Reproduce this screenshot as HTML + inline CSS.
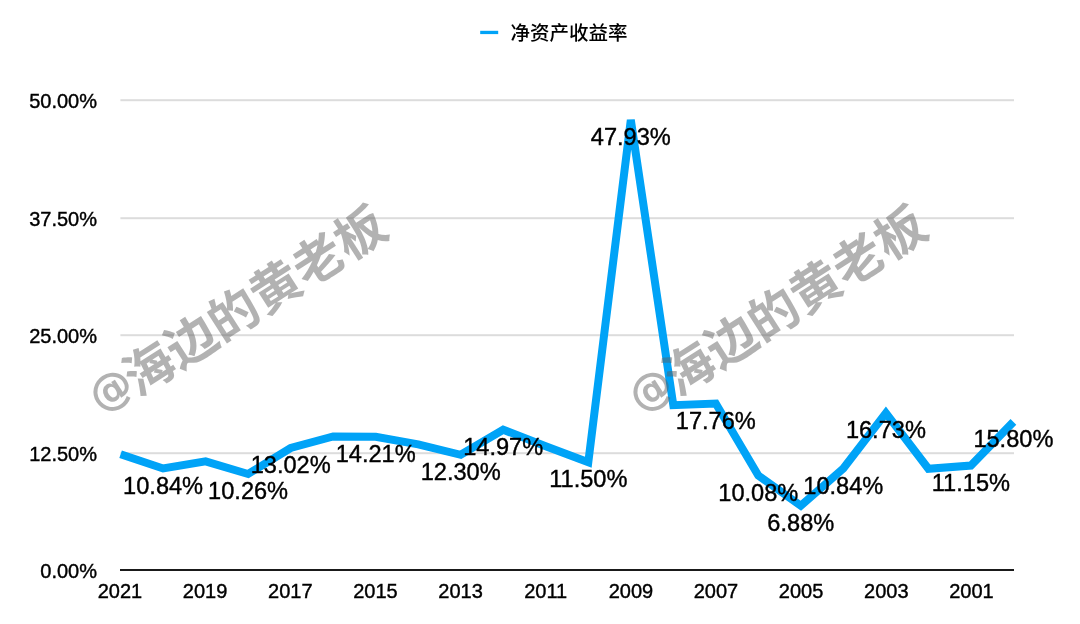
<!DOCTYPE html>
<html><head><meta charset="utf-8"><style>
html,body{margin:0;padding:0;background:#fff;width:1080px;height:624px;overflow:hidden}
svg{display:block;will-change:transform}
.num{font-family:"Liberation Sans",Arial,sans-serif;fill:#000;stroke:#000;stroke-width:0.4px}
.ax{font-size:20px}
.lb{font-size:23.6px}
.lg{font-family:"Liberation Sans","Noto Sans CJK SC",sans-serif;font-weight:500;font-size:19.5px;fill:#000}
.wm{font-family:"Liberation Sans","Noto Sans CJK SC",sans-serif;font-weight:700;font-size:50px;letter-spacing:0.2px;fill:#5e5e5e;fill-opacity:0.48}
.wa{font-family:"DejaVu Sans",sans-serif;font-weight:700;font-size:43px;fill:#5e5e5e;fill-opacity:0.48}
</style></head><body>
<svg width="1080" height="624" viewBox="0 0 1080 624">

<rect x="120.4" y="99.2" width="893.6" height="2" fill="#dcdcdc"/>
<rect x="120.4" y="217.2" width="893.6" height="2" fill="#dcdcdc"/>
<rect x="120.4" y="334.2" width="893.6" height="2" fill="#dcdcdc"/>
<rect x="120.4" y="452.2" width="893.6" height="2" fill="#dcdcdc"/>
<rect x="120" y="569" width="894" height="2" fill="#1a1a1a"/>
<text class="num ax" x="97" y="108.2" text-anchor="end">50.00%</text>
<text class="num ax" x="97" y="226.2" text-anchor="end">37.50%</text>
<text class="num ax" x="97" y="343.2" text-anchor="end">25.00%</text>
<text class="num ax" x="97" y="461.2" text-anchor="end">12.50%</text>
<text class="num ax" x="97" y="578.2" text-anchor="end">0.00%</text>
<text class="num ax" x="120.0" y="598" text-anchor="middle">2021</text>
<text class="num ax" x="205.1" y="598" text-anchor="middle">2019</text>
<text class="num ax" x="290.3" y="598" text-anchor="middle">2017</text>
<text class="num ax" x="375.4" y="598" text-anchor="middle">2015</text>
<text class="num ax" x="460.6" y="598" text-anchor="middle">2013</text>
<text class="num ax" x="545.7" y="598" text-anchor="middle">2011</text>
<text class="num ax" x="630.9" y="598" text-anchor="middle">2009</text>
<text class="num ax" x="716.0" y="598" text-anchor="middle">2007</text>
<text class="num ax" x="801.1" y="598" text-anchor="middle">2005</text>
<text class="num ax" x="886.3" y="598" text-anchor="middle">2003</text>
<text class="num ax" x="971.4" y="598" text-anchor="middle">2001</text>
<path d="M120.6,454.2 L163.1,468.5 L205.6,461.4 L248.1,474.0 L290.7,448.0 L333.2,436.4 L375.7,436.8 L418.2,444.4 L460.7,454.8 L503.2,429.7 L545.7,446.2 L588.3,462.3 L630.8,119.9 L673.3,405.2 L715.8,403.5 L758.3,475.6 L800.8,505.7 L843.3,468.5 L885.9,413.1 L928.4,468.8 L970.9,465.6 L1013.4,421.9" fill="none" stroke="#00a3f7" stroke-width="8.0" stroke-linejoin="miter" stroke-miterlimit="4"/>
<text class="num lb" x="163.1" y="493.5" text-anchor="middle">10.84%</text>
<text class="num lb" x="248.1" y="499.0" text-anchor="middle">10.26%</text>
<text class="num lb" x="290.7" y="473.0" text-anchor="middle">13.02%</text>
<text class="num lb" x="375.7" y="461.8" text-anchor="middle">14.21%</text>
<text class="num lb" x="460.7" y="479.8" text-anchor="middle">12.30%</text>
<text class="num lb" x="503.2" y="454.7" text-anchor="middle">14.97%</text>
<text class="num lb" x="588.3" y="487.3" text-anchor="middle">11.50%</text>
<text class="num lb" x="630.8" y="144.9" text-anchor="middle">47.93%</text>
<text class="num lb" x="715.8" y="428.5" text-anchor="middle">17.76%</text>
<text class="num lb" x="758.3" y="500.6" text-anchor="middle">10.08%</text>
<text class="num lb" x="800.8" y="530.7" text-anchor="middle">6.88%</text>
<text class="num lb" x="843.3" y="493.5" text-anchor="middle">10.84%</text>
<text class="num lb" x="885.9" y="438.1" text-anchor="middle">16.73%</text>
<text class="num lb" x="970.9" y="490.6" text-anchor="middle">11.15%</text>
<text class="num lb" x="1013.4" y="446.9" text-anchor="middle">15.80%</text>
<rect x="480.2" y="30.8" width="18" height="3.3" fill="#00a3f7"/>
<text class="lg" x="510.4" y="39.5">净资产收益率</text>
<text class="wa" transform="translate(100.2,413.3) rotate(-32.7)">@</text>
<text class="wm" transform="translate(137.7,397.2) rotate(-32.7)">海边的黄老板</text>
<text class="wa" transform="translate(640.2,413.3) rotate(-32.7)">@</text>
<text class="wm" transform="translate(677.7,397.2) rotate(-32.7)">海边的黄老板</text>
</svg>
</body></html>
